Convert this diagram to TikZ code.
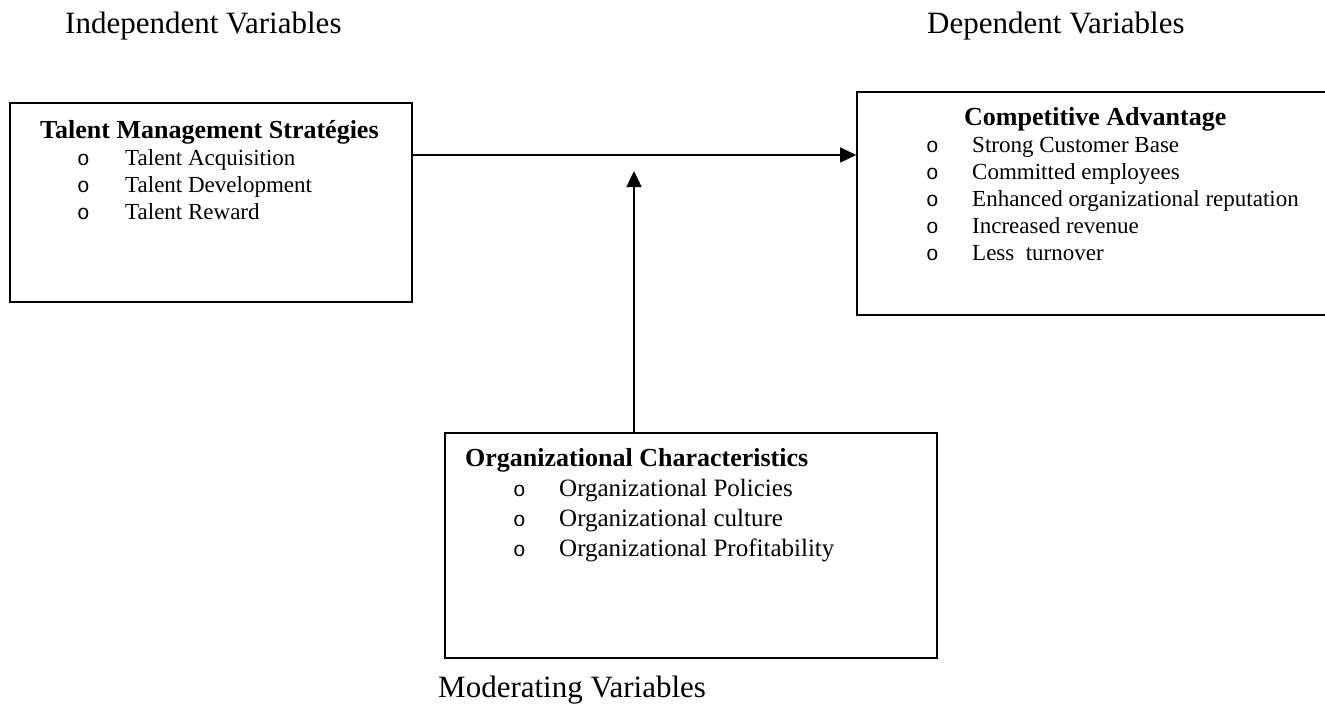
\documentclass[tikz,border=0pt]{standalone}
\usepackage{fontspec}
\setmainfont{Liberation Serif}
\newfontfamily\bulfont{Liberation Mono}
\usepackage{xcolor}
\usepackage{tikz}
\usetikzlibrary{calc, shapes, backgrounds, arrows, arrows.meta, positioning}

\newcommand{\bul}{{\bulfont\fontsize{21}{21}\selectfont o}}
\newcommand{\hd}[1]{{\fontsize{26}{27}\selectfont\bfseries #1}}

\tikzset{
 box/.style={draw, line width=1.6pt, inner sep=0pt},
 txt/.style={anchor=north west, inner sep=0pt},
 head/.style={anchor=base west, inner sep=0pt, font=\fontsize{31}{36}\selectfont},
 flow/.style={line width=1.4pt, -{Triangle[width=15pt,length=16pt]}}
}

\begin{document}
\begin{tikzpicture}[x=1pt,y=-1pt]
\useasboundingbox (0,0) rectangle (1325,705);
\node[head](indep) at (65,33) {Independent Variables};
\node[head](dep) at (927,33) {Dependent Variables};
\node[head](moder) at (438,697) {Moderating Variables};

\node[box, minimum width=402pt, minimum height=199pt](talent) at (211,202.5) {};
\node[box, minimum width=483pt, minimum height=223pt](advantage) at (1098.5,203.5) {};
\node[box, minimum width=492pt, minimum height=225pt](traits) at (691,545.5) {};

\node[txt](talentTxt) at (40,119) {\fontsize{23}{27}\selectfont
\begin{tabular}{@{}p{85pt}@{}l@{}}
\multicolumn{2}{@{}l@{}}{\hd{Talent Management Stratégies}}\\
\hspace*{37pt}\bul & Talent Acquisition\\
\hspace*{37pt}\bul & Talent Development\\
\hspace*{37pt}\bul & Talent Reward\\
\end{tabular}
};
\node[txt](advantageTxt) at (920,106) {\fontsize{23}{27}\selectfont
\begin{tabular}{@{}p{52pt}@{}l@{}}
\multicolumn{2}{@{}l@{}}{\hspace*{44pt}\hd{Competitive Advantage}}\\
\hspace*{6pt}\bul & Strong Customer Base\\
\hspace*{6pt}\bul & Committed employees\\
\hspace*{6pt}\bul & Enhanced organizational reputation\\
\hspace*{6pt}\bul & Increased revenue\\
\hspace*{6pt}\bul & Less\ \ turnover\\
\end{tabular}
};
\node[txt](traitsTxt) at (465,445) {\fontsize{25}{30}\selectfont
\begin{tabular}{@{}p{94pt}@{}l@{}}
\multicolumn{2}{@{}l@{}}{\hd{Organizational Characteristics}}\\
\hspace*{48pt}\bul & Organizational Policies\\
\hspace*{48pt}\bul & Organizational culture\\
\hspace*{48pt}\bul & Organizational Profitability\\
\end{tabular}
};

\coordinate(hline) at ([yshift=47.5pt]talent.east);
\coordinate(mod) at (634,171);
\path[draw, flow](hline) -- (hline -| advantage.west);
\path[draw, flow](mod |- traits.north) -- (mod);
\end{tikzpicture}
\end{document}
